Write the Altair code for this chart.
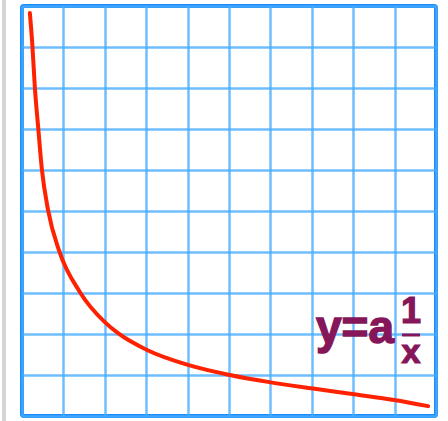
import altair as alt
import pandas as pd

# Points along the hyperbola y = a/x (grid units)
curve_x = [0.19, 0.25, 0.31, 0.39, 0.48, 0.63, 0.90, 1.40, 2.00, 2.32, 3.02, 4.03, 5.02, 6.01, 7.03, 8.02, 8.99, 9.81]
curve_y = [9.83, 9.05, 8.02, 7.05, 6.02, 5.02, 4.02, 3.02, 2.29, 2.02, 1.61, 1.24, 1.00, 0.82, 0.67, 0.53, 0.39, 0.24]

grid_ticks = list(range(0, 11))

formula_main = "y=a"
formula_num = "1"
formula_den = "x"

curve = pd.DataFrame({"x": curve_x, "y": curve_y})

GRID = "#4aaeff"
BORDER = "#1b8cff"
RED = "#ff2200"
PURPLE = "#86165a"

x_scale = alt.Scale(domain=[0, 10], nice=False, zero=False)
y_scale = alt.Scale(domain=[0, 10], nice=False, zero=False)

axis_x = alt.Axis(values=grid_ticks, grid=True, gridColor=GRID, gridWidth=2.5,
                  gridOpacity=0.8, domain=False, ticks=False, labels=False, title=None)
axis_y = alt.Axis(values=grid_ticks, grid=True, gridColor=GRID, gridWidth=2.5,
                  gridOpacity=0.8, domain=False, ticks=False, labels=False, title=None)

line = alt.Chart(curve).mark_line(
    color=RED, strokeWidth=4, interpolate="monotone", strokeCap="round", clip=False
).encode(
    x=alt.X("x:Q", scale=x_scale, axis=axis_x),
    y=alt.Y("y:Q", scale=y_scale, axis=axis_y),
)

one = pd.DataFrame({"t": [0]})

text_style = dict(font="Liberation Sans", fontWeight="bold", color=PURPLE,
                  stroke=PURPLE, align="center", baseline="alphabetic")

main_text = alt.Chart(one).mark_text(
    text=formula_main, fontSize=46, strokeWidth=1.4, **text_style
).encode(x=alt.value(333), y=alt.value(337))

num_text = alt.Chart(one).mark_text(
    text=formula_num, fontSize=36, strokeWidth=1.2, **text_style
).encode(x=alt.value(389), y=alt.value(317))

den_text = alt.Chart(one).mark_text(
    text=formula_den, fontSize=34, strokeWidth=1.2, **text_style
).encode(x=alt.value(389), y=alt.value(357))

frac_bar = alt.Chart(one).mark_rule(color=PURPLE, strokeWidth=3).encode(
    x=alt.value(380), x2=alt.value(398), y=alt.value(329)
)

side_rule = alt.Chart(one).mark_rule(color="#d4d4d4", strokeWidth=4).encode(
    x=alt.value(-18), y=alt.value(-6), y2=alt.value(415)
)

chart = alt.layer(side_rule, line, frac_bar, main_text, num_text, den_text).properties(
    width=414, height=410,
    padding={"left": 22, "top": 6, "right": 12, "bottom": 5},
    autosize=alt.AutoSizeParams(type="none"),
    background="white",
).configure_view(
    stroke=BORDER, strokeWidth=4, cornerRadius=2
)

chart.save("out.html", embed_options={"renderer": "svg", "actions": False})
